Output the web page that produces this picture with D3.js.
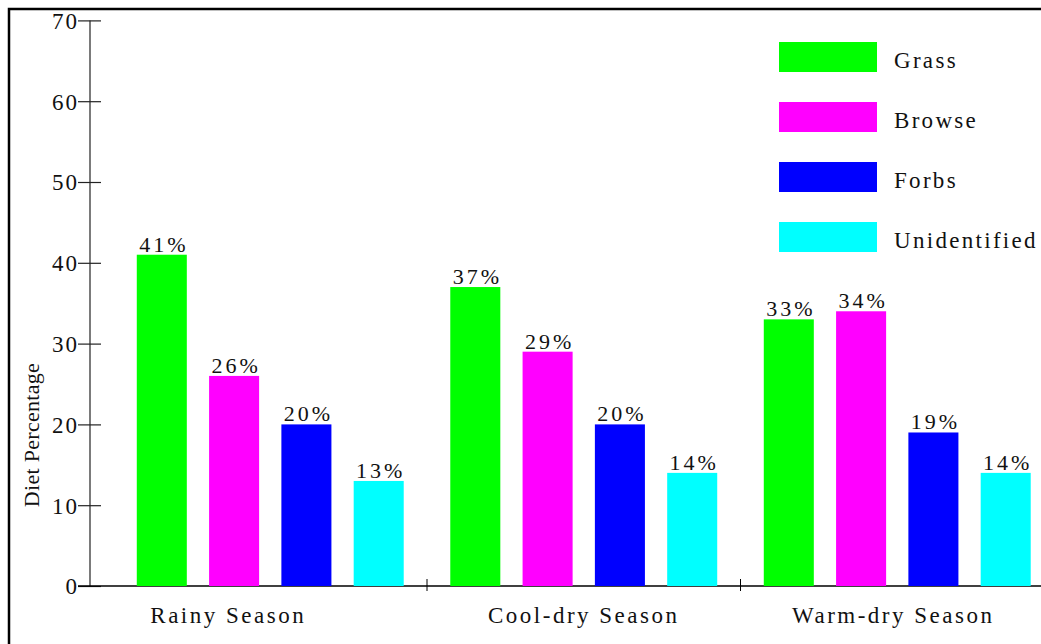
<!DOCTYPE html>
<html>
<head>
<meta charset="utf-8">
<script src="https://cdn.jsdelivr.net/npm/d3@7"></script>
<style>
  html, body { margin: 0; padding: 0; background: #fff; }
  svg { display: block; }
  text { font-family: "Liberation Serif", "Times New Roman", serif; fill: #111; }
</style>
</head>
<body>
<svg id="chart" width="1041" height="644"></svg>
<script>
// Diet composition by season
const seasons = ["Rainy Season", "Cool-dry Season", "Warm-dry Season"];
const dietTypes = ["Grass", "Browse", "Forbs", "Unidentified"];
const grass = [41, 37, 33];
const browse = [26, 29, 34];
const forbs = [20, 20, 19];
const unidentified = [13, 14, 14];
const yTicks = [0, 10, 20, 30, 40, 50, 60, 70];
const typeColors = ["#00ff00", "#ff00ff", "#0000ff", "#00ffff"];

const seriesValues = [grass, browse, forbs, unidentified];
const rows = seasons.map((s, i) => ({
  season: s,
  values: dietTypes.map((t, j) => ({ type: t, value: seriesValues[j][i] }))
}));

const svg = d3.select("#chart");

// frame
svg.append("rect")
  .attr("x", 9).attr("y", 9)
  .attr("width", 1100).attr("height", 700)
  .attr("fill", "none").attr("stroke", "#000").attr("stroke-width", 2.5);

const axisX = 90, baseY = 586;
const y = d3.scaleLinear().domain([0, 70]).range([baseY, 20.4]);
const x0 = d3.scaleBand().domain(seasons).range([113.5, 1054]).padding(0);
const x1 = d3.scaleBand().domain(dietTypes).range([0, x0.bandwidth()])
  .paddingInner(0.308).paddingOuter(0.322);

// y axis
const yAxis = d3.axisLeft(y).tickValues(yTicks).tickSize(0).tickPadding(0);
const gy = svg.append("g").attr("transform", `translate(${axisX},0)`).call(yAxis);
gy.select(".domain").attr("stroke", "#222").attr("stroke-width", 1.2).attr("d", `M0,${y(70)}V${baseY}`);
gy.selectAll(".tick line").remove();
gy.selectAll(".tick").append("line")
  .attr("x1", -12).attr("x2", 11).attr("stroke", "#222").attr("stroke-width", 1.2);
gy.selectAll(".tick text")
  .attr("x", -11).attr("dy", "0.34em")
  .style("font-size", "23px").style("letter-spacing", "2px")
  .attr("font-family", null);

// x axis baseline and group separators
svg.append("line")
  .attr("x1", axisX - 12).attr("x2", 1041).attr("y1", baseY).attr("y2", baseY)
  .attr("stroke", "#000").attr("stroke-width", 1.5);
svg.selectAll("line.sep").data(seasons.slice(1)).enter().append("line")
  .attr("class", "sep")
  .attr("x1", d => x0(d)).attr("x2", d => x0(d))
  .attr("y1", baseY - 7).attr("y2", baseY + 5)
  .attr("stroke", "#000").attr("stroke-width", 1);

// season labels
const labelShift = { "Rainy Season": -42, "Cool-dry Season": 0, "Warm-dry Season": -4 };
svg.selectAll("text.season").data(seasons).enter().append("text")
  .attr("class", "season")
  .attr("x", d => x0(d) + x0.bandwidth() / 2 + labelShift[d])
  .attr("y", 623)
  .attr("text-anchor", "middle")
  .style("font-size", "23px").style("letter-spacing", "2.5px")
  .text(d => d);

// bars
const groups = svg.selectAll("g.season").data(rows).enter().append("g")
  .attr("class", "season")
  .attr("transform", d => `translate(${x0(d.season)},0)`);

groups.selectAll("rect").data(d => d.values).enter().append("rect")
  .attr("x", d => x1(d.type))
  .attr("y", d => y(d.value))
  .attr("width", x1.bandwidth())
  .attr("height", d => baseY - y(d.value))
  .attr("fill", (d, i) => typeColors[i]);

groups.selectAll("text").data(d => d.values).enter().append("text")
  .attr("x", d => x1(d.type) + x1.bandwidth() / 2 + 2)
  .attr("y", d => y(d.value) - 3)
  .attr("text-anchor", "middle")
  .style("font-size", "22px").style("letter-spacing", "3px")
  .text(d => d.value + "%");

// y axis title
svg.append("text")
  .attr("transform", `translate(39,435) rotate(-90)`)
  .attr("text-anchor", "middle")
  .style("font-size", "22px").style("letter-spacing", "0.3px")
  .text("Diet Percentage");

// legend
const legend = svg.append("g").attr("transform", "translate(779,42)");
const legendStep = d3.scaleBand().domain(dietTypes).range([0, 240]);
const item = legend.selectAll("g").data(dietTypes).enter().append("g")
  .attr("transform", d => `translate(0,${legendStep(d)})`);
item.append("rect")
  .attr("width", 98).attr("height", 30)
  .attr("fill", (d, i) => typeColors[i]);
item.append("text")
  .attr("x", 115).attr("y", 26)
  .style("font-size", "23px").style("letter-spacing", "2.3px")
  .text(d => d);
</script>
</body>
</html>
